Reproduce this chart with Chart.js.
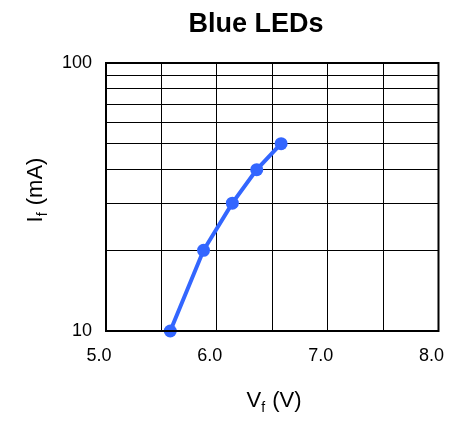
<!DOCTYPE html>
<html>
<head>
<meta charset="utf-8">
<script src="https://cdn.jsdelivr.net/npm/chart.js@4/dist/chart.umd.min.js"></script>
<style>
  html, body { margin: 0; padding: 0; background: #fff; }
  #wrap { width: 465px; height: 422px; }
</style>
</head>
<body>
<div id="wrap"><canvas id="c" width="465" height="422"></canvas></div>
<script>
const chartTitle = 'Blue LEDs';
const forwardVoltage = [5.58, 5.88, 6.14, 6.36, 6.58];   // V_f (V)
const forwardCurrent = [10, 20, 30, 40, 50];             // I_f (mA)
const xTicks = [5.0, 5.5, 6.0, 6.5, 7.0, 7.5, 8.0];
const xTickLabels = [5.0, 6.0, 7.0, 8.0];
const yTicks = [10, 20, 30, 40, 50, 60, 70, 80, 90, 100];
const yTickLabels = [10, 100];

const FONT = "'Liberation Sans', Arial, Helvetica, sans-serif";

const textPlugin = {
  id: 'textPlugin',
  afterDraw(chart) {
    const ctx = chart.ctx;
    const a = chart.chartArea;
    ctx.save();
    // frame
    ctx.strokeStyle = '#000';
    ctx.lineWidth = 2;
    ctx.strokeRect(a.left, a.top, a.right - a.left, a.bottom - a.top);

    // chart title
    ctx.fillStyle = '#000';
    ctx.font = 'bold 27px ' + FONT;
    ctx.textAlign = 'center';
    ctx.textBaseline = 'alphabetic';
    ctx.fillText(chartTitle, 256, 32);

    function drawSub(main, sub, rest, cx, baseline) {
      ctx.font = '22px ' + FONT;
      const w1 = ctx.measureText(main).width;
      const w3 = ctx.measureText(rest).width;
      ctx.font = '14px ' + FONT;
      const w2 = ctx.measureText(sub).width;
      const total = w1 + w2 + w3 + 1;
      let x = cx - total / 2;
      ctx.fillStyle = '#000';
      ctx.textBaseline = 'alphabetic';
      ctx.textAlign = 'left';
      ctx.font = '22px ' + FONT;
      ctx.fillText(main, x, baseline);
      x += w1;
      ctx.font = '14px ' + FONT;
      ctx.fillText(sub, x, baseline + 5);
      x += w2 + 1;
      ctx.font = '22px ' + FONT;
      ctx.fillText(rest, x, baseline);
    }
    // x title
    drawSub('V', 'f', ' (V)', 274, 407);
    // y title
    ctx.save();
    ctx.translate(42, 190);
    ctx.rotate(-Math.PI / 2);
    drawSub('I', 'f', ' (mA)', 0, 0);
    ctx.restore();
    ctx.restore();
  }
};

new Chart(document.getElementById('c'), {
  type: 'line',
  data: {
    datasets: [{
      data: forwardVoltage.map((v, i) => ({ x: v, y: forwardCurrent[i] })),
      borderColor: '#3366ff',
      backgroundColor: '#3366ff',
      borderWidth: 4,
      pointRadius: 6.5,
      pointHoverRadius: 6.5,
      pointBorderWidth: 0,
      tension: 0,
      clip: false
    }]
  },
  options: {
    responsive: false,
    animation: false,
    layout: { padding: { left: 0, right: 26, top: 63, bottom: 0 } },
    plugins: {
      legend: { display: false },
      tooltip: { enabled: false },
      title: { display: false }
    },
    scales: {
      x: {
        type: 'linear',
        min: 5, max: 8,
        afterBuildTicks: s => { s.ticks = xTicks.map(v => ({ value: v })); },
        afterFit: s => { s.height = 91; },
        grid: { color: '#000', lineWidth: 1, drawTicks: false },
        border: { display: true, color: '#000', width: 2 },
        ticks: {
          color: '#000',
          font: { family: FONT, size: 18 },
          padding: 14,
          labelOffset: -7,
          maxRotation: 0,
          autoSkip: false,
          callback: v => xTickLabels.includes(v) ? v.toFixed(1) : ''
        }
      },
      y: {
        type: 'logarithmic',
        min: 10, max: 100,
        afterBuildTicks: s => { s.ticks = yTicks.map(v => ({ value: v })); },
        afterFit: s => { s.width = 106; },
        grid: { color: '#000', lineWidth: 1, drawTicks: false },
        border: { display: true, color: '#000', width: 2 },
        ticks: {
          color: '#000',
          font: { family: FONT, size: 18 },
          padding: 14,
          autoSkip: false,
          callback: v => yTickLabels.includes(v) ? String(v) : ''
        }
      }
    }
  },
  plugins: [textPlugin]
});
</script>
</body>
</html>
